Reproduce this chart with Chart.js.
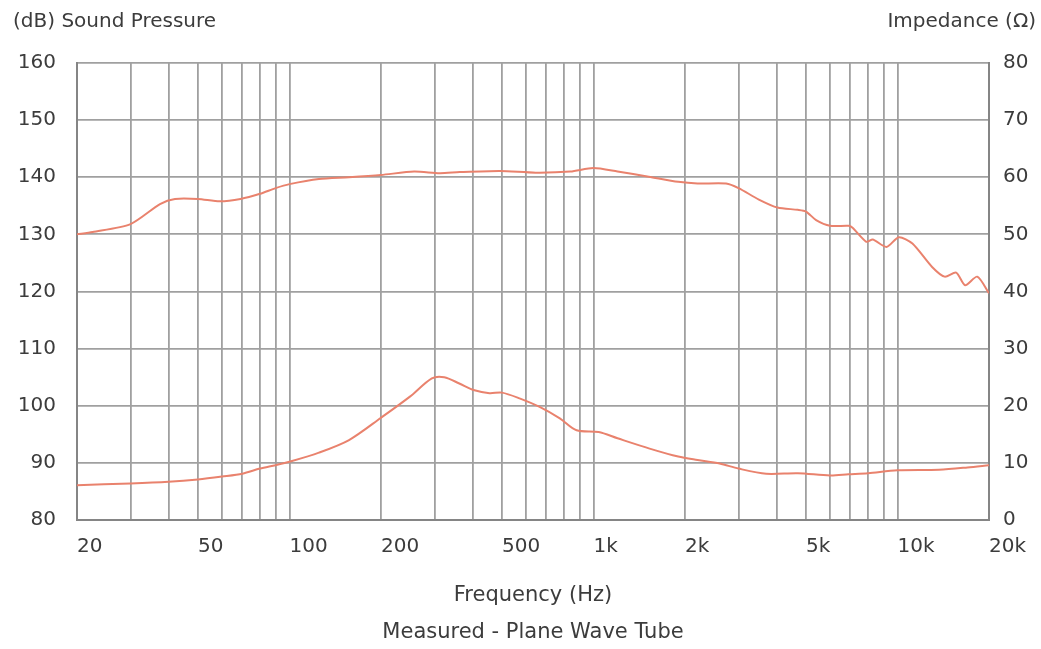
<!DOCTYPE html>
<html>
<head>
<meta charset="utf-8">
<script src="https://cdn.jsdelivr.net/npm/chart.js@4"></script>
<style>
  body { margin: 0; background: #fff; }
  #wrap { width: 1041px; height: 649px; }
</style>
</head>
<body>
<div id="wrap"><canvas id="myChart" width="1041" height="649"></canvas></div>
<script>
// data

const splFreq = [20, 22.5, 30, 37.5, 42, 50, 59, 69, 80, 90, 100, 125, 157, 200, 257, 312, 363, 493, 645, 840, 1000, 1200, 1520, 1900, 2200, 2730, 3000, 3500, 4030, 4700, 5000, 5400, 6000, 6900, 7100, 7900, 8300, 9200, 10100, 11200, 13000, 14300, 15600, 16700, 18300, 20000];
const splDb = [130, 130.4, 131.8, 135.3, 136.2, 136.2, 135.8, 136.2, 137.1, 138.1, 138.8, 139.7, 140, 140.4, 141, 140.7, 140.9, 141.1, 140.8, 141, 141.6, 141, 140.1, 139.2, 138.9, 138.9, 138.1, 136.1, 134.7, 134.3, 134, 132.5, 131.5, 131.5, 131.2, 128.7, 129.1, 127.8, 129.5, 128.4, 124.3, 122.6, 123.3, 121.1, 122.6, 119.7];

const impFreq = [20, 30, 40, 50, 60, 70, 80, 90, 100, 125, 157, 200, 249, 294, 323, 362, 406, 455, 500, 571, 665, 775, 880, 1040, 1200, 1530, 1900, 2200, 2600, 3000, 3700, 4700, 6000, 6900, 8000, 10000, 13700, 17000, 20000];
const impOhm = [6.1, 6.4, 6.7, 7.1, 7.6, 8.1, 9, 9.6, 10.2, 11.8, 14.0, 17.9, 21.6, 24.8, 25, 23.9, 22.7, 22.2, 22.3, 21.3, 19.8, 17.8, 15.7, 15.4, 14.3, 12.5, 11.1, 10.5, 9.9, 9, 8.1, 8.2, 7.8, 8, 8.2, 8.7, 8.8, 9.2, 9.6];

// grid lines on the frequency axis and the ones that get a label
const freqGrid = [20, 30, 40, 50, 60, 70, 80, 90, 100, 200, 300, 400, 500, 600, 700, 800, 900, 1000, 2000, 3000, 4000, 5000, 6000, 7000, 8000, 9000, 10000, 20000];
const freqLabels = { 20: "20", 50: "50", 100: "100", 200: "200", 500: "500", 1000: "1k", 2000: "2k", 5000: "5k", 10000: "10k", 20000: "20k" };

const lineColor = "#e9826d";
const textColor = "#3c3c3c";
const fontName = "DejaVu Sans";

function toPoints(xs, ys) {
  const pts = [];
  for (let i = 0; i < xs.length; i++) {
    pts.push({ x: xs[i], y: ys[i] });
  }
  return pts;
}

// axis titles above and below the plot
const titlesPlugin = {
  id: "titles",
  afterDraw(chart) {
    const ctx = chart.ctx;
    const area = chart.chartArea;
    ctx.save();
    ctx.fillStyle = textColor;
    ctx.font = "20px '" + fontName + "'";
    ctx.textBaseline = "middle";
    ctx.textAlign = "left";
    ctx.fillText("(dB) Sound Pressure", 13, 22);
    ctx.textAlign = "right";
    ctx.fillText("Impedance (Ω)", 1036, 22);
    ctx.textAlign = "center";
    ctx.font = "21px '" + fontName + "'";
    const mid = (area.left + area.right) / 2;
    ctx.fillText("Frequency (Hz)", mid, 596);
    ctx.fillText("Measured - Plane Wave Tube", mid, 633);
    ctx.restore();
  }
};

const ctx = document.getElementById("myChart").getContext("2d");

const myChart = new Chart(ctx, {
  type: "line",
  data: {
    datasets: [
      {
        label: "Sound Pressure",
        data: toPoints(splFreq, splDb),
        yAxisID: "y",
        borderColor: lineColor,
        borderWidth: 2,
        pointRadius: 0,
        tension: 0.25,
        fill: false,
      },
      {
        label: "Impedance",
        data: toPoints(impFreq, impOhm),
        yAxisID: "y2",
        borderColor: lineColor,
        borderWidth: 2,
        pointRadius: 0,
        tension: 0.3,
        fill: false,
      },
    ],
  },
  options: {
    responsive: false,
    animation: false,
    layout: { padding: { top: 63, left: 0, right: 0, bottom: 0 } },
    plugins: {
      legend: { display: false },
      tooltip: { enabled: false },
    },
    scales: {
      x: {
        type: "logarithmic",
        min: 20,
        max: 20000,
        afterBuildTicks: (scale) => {
          scale.ticks = freqGrid.map((v) => ({ value: v }));
        },
        afterFit: (scale) => {
          scale.height = 129;
        },
        ticks: {
          autoSkip: false,
          maxRotation: 0,
          align: "start",
          padding: 15,
          color: textColor,
          font: { family: fontName, size: 20 },
          callback: (value) => freqLabels[value] || "",
        },
        grid: {
          color: "#a0a0a0",
          lineWidth: 1.8,
          drawTicks: false,
        },
        border: { color: "#858585", width: 2 },
      },
      y: {
        position: "left",
        min: 80,
        max: 160,
        afterFit: (scale) => {
          scale.width = 77;
        },
        ticks: {
          stepSize: 10,
          padding: 21,
          color: textColor,
          font: { family: fontName, size: 20 },
        },
        grid: {
          color: "#a0a0a0",
          lineWidth: 1.8,
          drawTicks: false,
        },
        border: { color: "#858585", width: 2 },
      },
      y2: {
        position: "right",
        min: 0,
        max: 80,
        afterFit: (scale) => {
          scale.width = 51;
        },
        ticks: {
          stepSize: 10,
          padding: 14,
          color: textColor,
          font: { family: fontName, size: 20 },
        },
        grid: {
          drawOnChartArea: false,
          drawTicks: false,
        },
        border: { color: "#858585", width: 2 },
      },
    },
  },
  plugins: [titlesPlugin],
});
</script>
</body>
</html>
